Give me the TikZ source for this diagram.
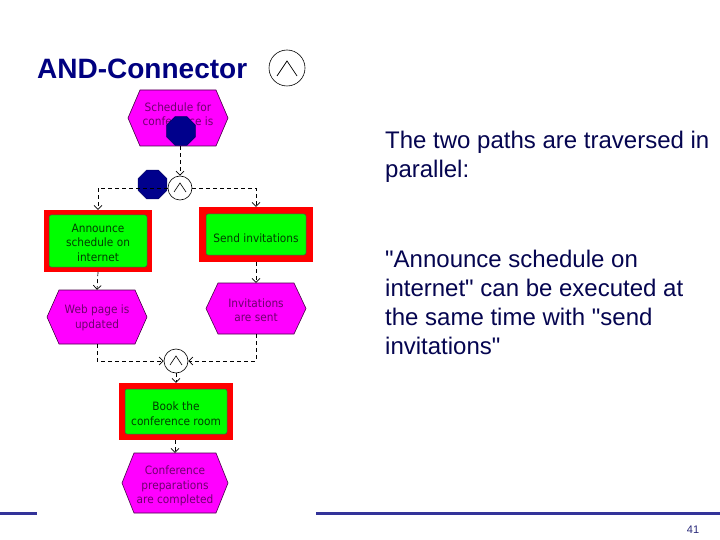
\documentclass[tikz,border=0pt]{standalone}
\usepackage{fontspec}
\setmainfont[Ligatures=TeXOff]{Liberation Sans}
\newfontfamily\diafont[FakeStretch=0.92]{DejaVu Sans}
\usetikzlibrary{shapes.geometric,arrows.meta,calc}
\definecolor{navy}{RGB}{0,0,128}
\definecolor{evfill}{RGB}{255,0,255}
\definecolor{evline}{RGB}{70,0,70}
\definecolor{evtext}{RGB}{110,0,110}
\definecolor{fnfill}{RGB}{0,255,0}
\definecolor{fntext}{RGB}{0,60,0}
\definecolor{rulecol}{RGB}{51,51,153}
\definecolor{bodytext}{RGB}{5,5,80}
\definecolor{octfill}{RGB}{0,0,140}
\tikzset{
  flow/.style={line width=0.7pt, dash pattern=on 4pt off 3pt, -{Straight Barb[length=4pt,width=8pt]}},
  evtxt/.style={font=\diafont\fontsize{11.5}{14.5}\selectfont, text=evtext, align=center, inner sep=0pt},
  fntxt/.style={font=\diafont\fontsize{11.5}{14.5}\selectfont, text=fntext, align=center, inner sep=0pt},
  redbox/.style={fill=red, draw=none, inner sep=0pt},
  greenbox/.style={fill=fnfill, draw=black!70, line width=0.5pt, rounded corners=2pt},
  andconn/.style={circle, draw=black, fill=white, line width=0.6pt, minimum size=24pt, inner sep=0pt},
  octa/.style={regular polygon, regular polygon sides=8, fill=octfill, draw=black!60!blue, line width=0.4pt, minimum size=31pt, inner sep=0pt},
  bodytxt/.style={font=\fontsize{24}{29}\selectfont, text=bodytext, anchor=base west, inner sep=0pt},
}
% name, cx, cy, w, h, text y, text
\newcommand\eventhex[7]{%
  \draw[evline, fill=evfill, line width=0.6pt]
    (#2-#4/2,#3) -- (#2-#4/2+12,#3-#5/2) -- (#2+#4/2-12,#3-#5/2) -- (#2+#4/2,#3)
    -- (#2+#4/2-12,#3+#5/2) -- (#2-#4/2+12,#3+#5/2) -- cycle;
  \node[minimum width=#4pt, minimum height=#5pt, inner sep=0pt] (#1) at (#2,#3) {};
  \node[evtxt] at (#2,#6) {#7};}
% name, cx, cy, w, h, inset, text y, text
\newcommand\funcbox[8]{%
  \node[redbox, minimum width=#4pt, minimum height=#5pt] (#1) at (#2,#3) {};
  \draw[greenbox] (#2-#4/2+#6,#3-#5/2+#6) rectangle (#2+#4/2-#6,#3+#5/2-#6);
  \node[fntxt] at (#2,#7) {#8};}
\newcommand\andmark[1]{%
  \draw[line width=0.6pt] ($(#1)+(-6,4)$) -- ($(#1)+(0,-5)$) -- ($(#1)+(6,4)$);}
\begin{document}
\begin{tikzpicture}[x=1pt,y=-1pt]
\useasboundingbox (0,0) rectangle (720,540);
\fill[white] (0,0) rectangle (720,540);
% title
\node[font=\bfseries\fontsize{28}{32}\selectfont, text=navy, anchor=base west, inner sep=0pt] (title) at (37,79) {AND-Connector};
\node[andconn, minimum size=36pt] (legend) at (287,68) {};
\draw[line width=0.7pt] (277,76) -- (287,61) -- (297,76);
% events and functions
\eventhex{ev1}{178}{118}{100}{56}{114}{Schedule for\\conference is}
\node[octa] (oct1) at (181,131) {};
\node[octa] (oct2) at (152.5,184.5) {};
\node[andconn] (c1) at (180,188) {};
\andmark{c1}
\funcbox{ann}{98}{241}{108}{62}{5}{242.5}{Announce\\schedule on\\internet}
\funcbox{send}{256}{234.5}{114}{55}{7}{238.5}{Send invitations}
\eventhex{web}{97}{317}{100}{54}{318}{Web page is\\updated}
\eventhex{inv}{256}{308.5}{100}{51}{310}{Invitations\\are sent}
\node[andconn] (c2) at (176,361) {};
\andmark{c2}
\funcbox{book}{176}{411.5}{114}{57}{6}{413.5}{Book the\\conference room}
\eventhex{conf}{175}{483}{106}{60}{486}{Conference\\preparations\\are completed}
% connectors
\draw[flow] (ev1.south -| c1) -- (c1.north);
\draw[flow] (c1.west) -| (ann.north);
\draw[flow] (c1.east) -| (send.north);
\draw[flow] (ann.south) -- (web.north);
\draw[flow] (send.south) -- (inv.north);
\draw[flow] (web.south) |- (c2.west);
\draw[flow] (inv.south) |- (c2.east);
\draw[flow] (c2.south) -- (book.north);
\draw[flow] (book.south -| conf) -- (conf.north);
% body text
\node[bodytxt] (t1) at (385,149) {\vtop{\baselineskip=29pt \hbox{The two paths are traversed in}\hbox{parallel:}}};
\node[bodytxt] (t2) at (385,267) {\vtop{\baselineskip=29pt \hbox{"Announce schedule on}\hbox{internet" can be executed at}\hbox{the same time with "send}\hbox{invitations"}}};
% footer
\draw[rulecol, line width=3pt] (0,513) -- (37,513);
\draw[rulecol, line width=3pt] (316,513) -- (720,513);
\node[font=\fontsize{11}{12}\selectfont, text=rulecol!80!black, inner sep=0pt] (pnum) at (693,530) {41};
\end{tikzpicture}
\end{document}
